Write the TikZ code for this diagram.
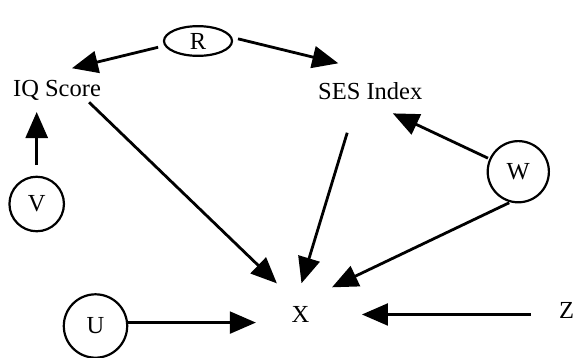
\documentclass[tikz,border=0pt]{standalone}
\usepackage{fontspec}
\setmainfont{Liberation Serif}
\usetikzlibrary{arrows.meta,shapes.geometric,calc}
\begin{document}
\begin{tikzpicture}[x=1pt,y=-1pt,
  lbl/.style={font=\fontsize{24.5}{29}\selectfont, inner sep=0pt},
  latent/.style={lbl, draw, circle, line width=2.2pt},
  arr/.style={line width=2.8pt, -{Triangle[length=26pt,width=22pt]}},
  harr/.style={arr, line width=2.2pt}]
\useasboundingbox (0,0) rectangle (576,357);
\path[fill=white] (0,0) rectangle (576,357);

% variables
\node[lbl, draw, ellipse, line width=2.2pt, minimum width=68pt, minimum height=29.7pt] (R) at (198,41) {R};
\node[lbl, anchor=base] (IQ) at (57,96) {IQ Score};
\node[lbl, anchor=base] (SES) at (370.3,99.3) {SES Index};
\node[latent, minimum size=54.5pt] (V) at (36.7,204) {V};
\node[latent, minimum size=61.2pt] (W) at (518.3,171.7) {W};
\node[latent, minimum size=63.4pt] (U) at (95.5,326) {U};
\node[lbl, anchor=base] (X) at (300.5,322.5) {X};
\node[lbl, anchor=base] (Z) at (566.5,318) {Z};

% causal arrows
\draw[arr, shorten <=6.5pt, shorten >=48pt] (R.188) -- (IQ.162);
\draw[arr, shorten <=6pt] (R.6) -- ($(SES.base)+(-32,-36)$);
\draw[arr, shorten <=10.6pt, shorten >=16pt] (V.north) -- (V.north |- IQ.base);
\draw[arr, shorten <=3pt, shorten >=33pt] (IQ.-19) -- (X.89);
\draw[arr, shorten <=34.5pt, shorten >=24pt] (SES.214) -- (X.126);
\draw[arr, shorten <=1.5pt, shorten >=32pt] (W.156) -- (SES.234);
\draw[arr, shorten <=1pt, shorten >=44pt] (W.255) -- (X.135);
\draw[harr, shorten >=35.6pt] (U.6) -- (U.6 -| X.west);
\draw[harr, shorten <=28pt, shorten >=52.4pt] (Z.west |- X.east) -- (X.east);
\end{tikzpicture}
\end{document}
